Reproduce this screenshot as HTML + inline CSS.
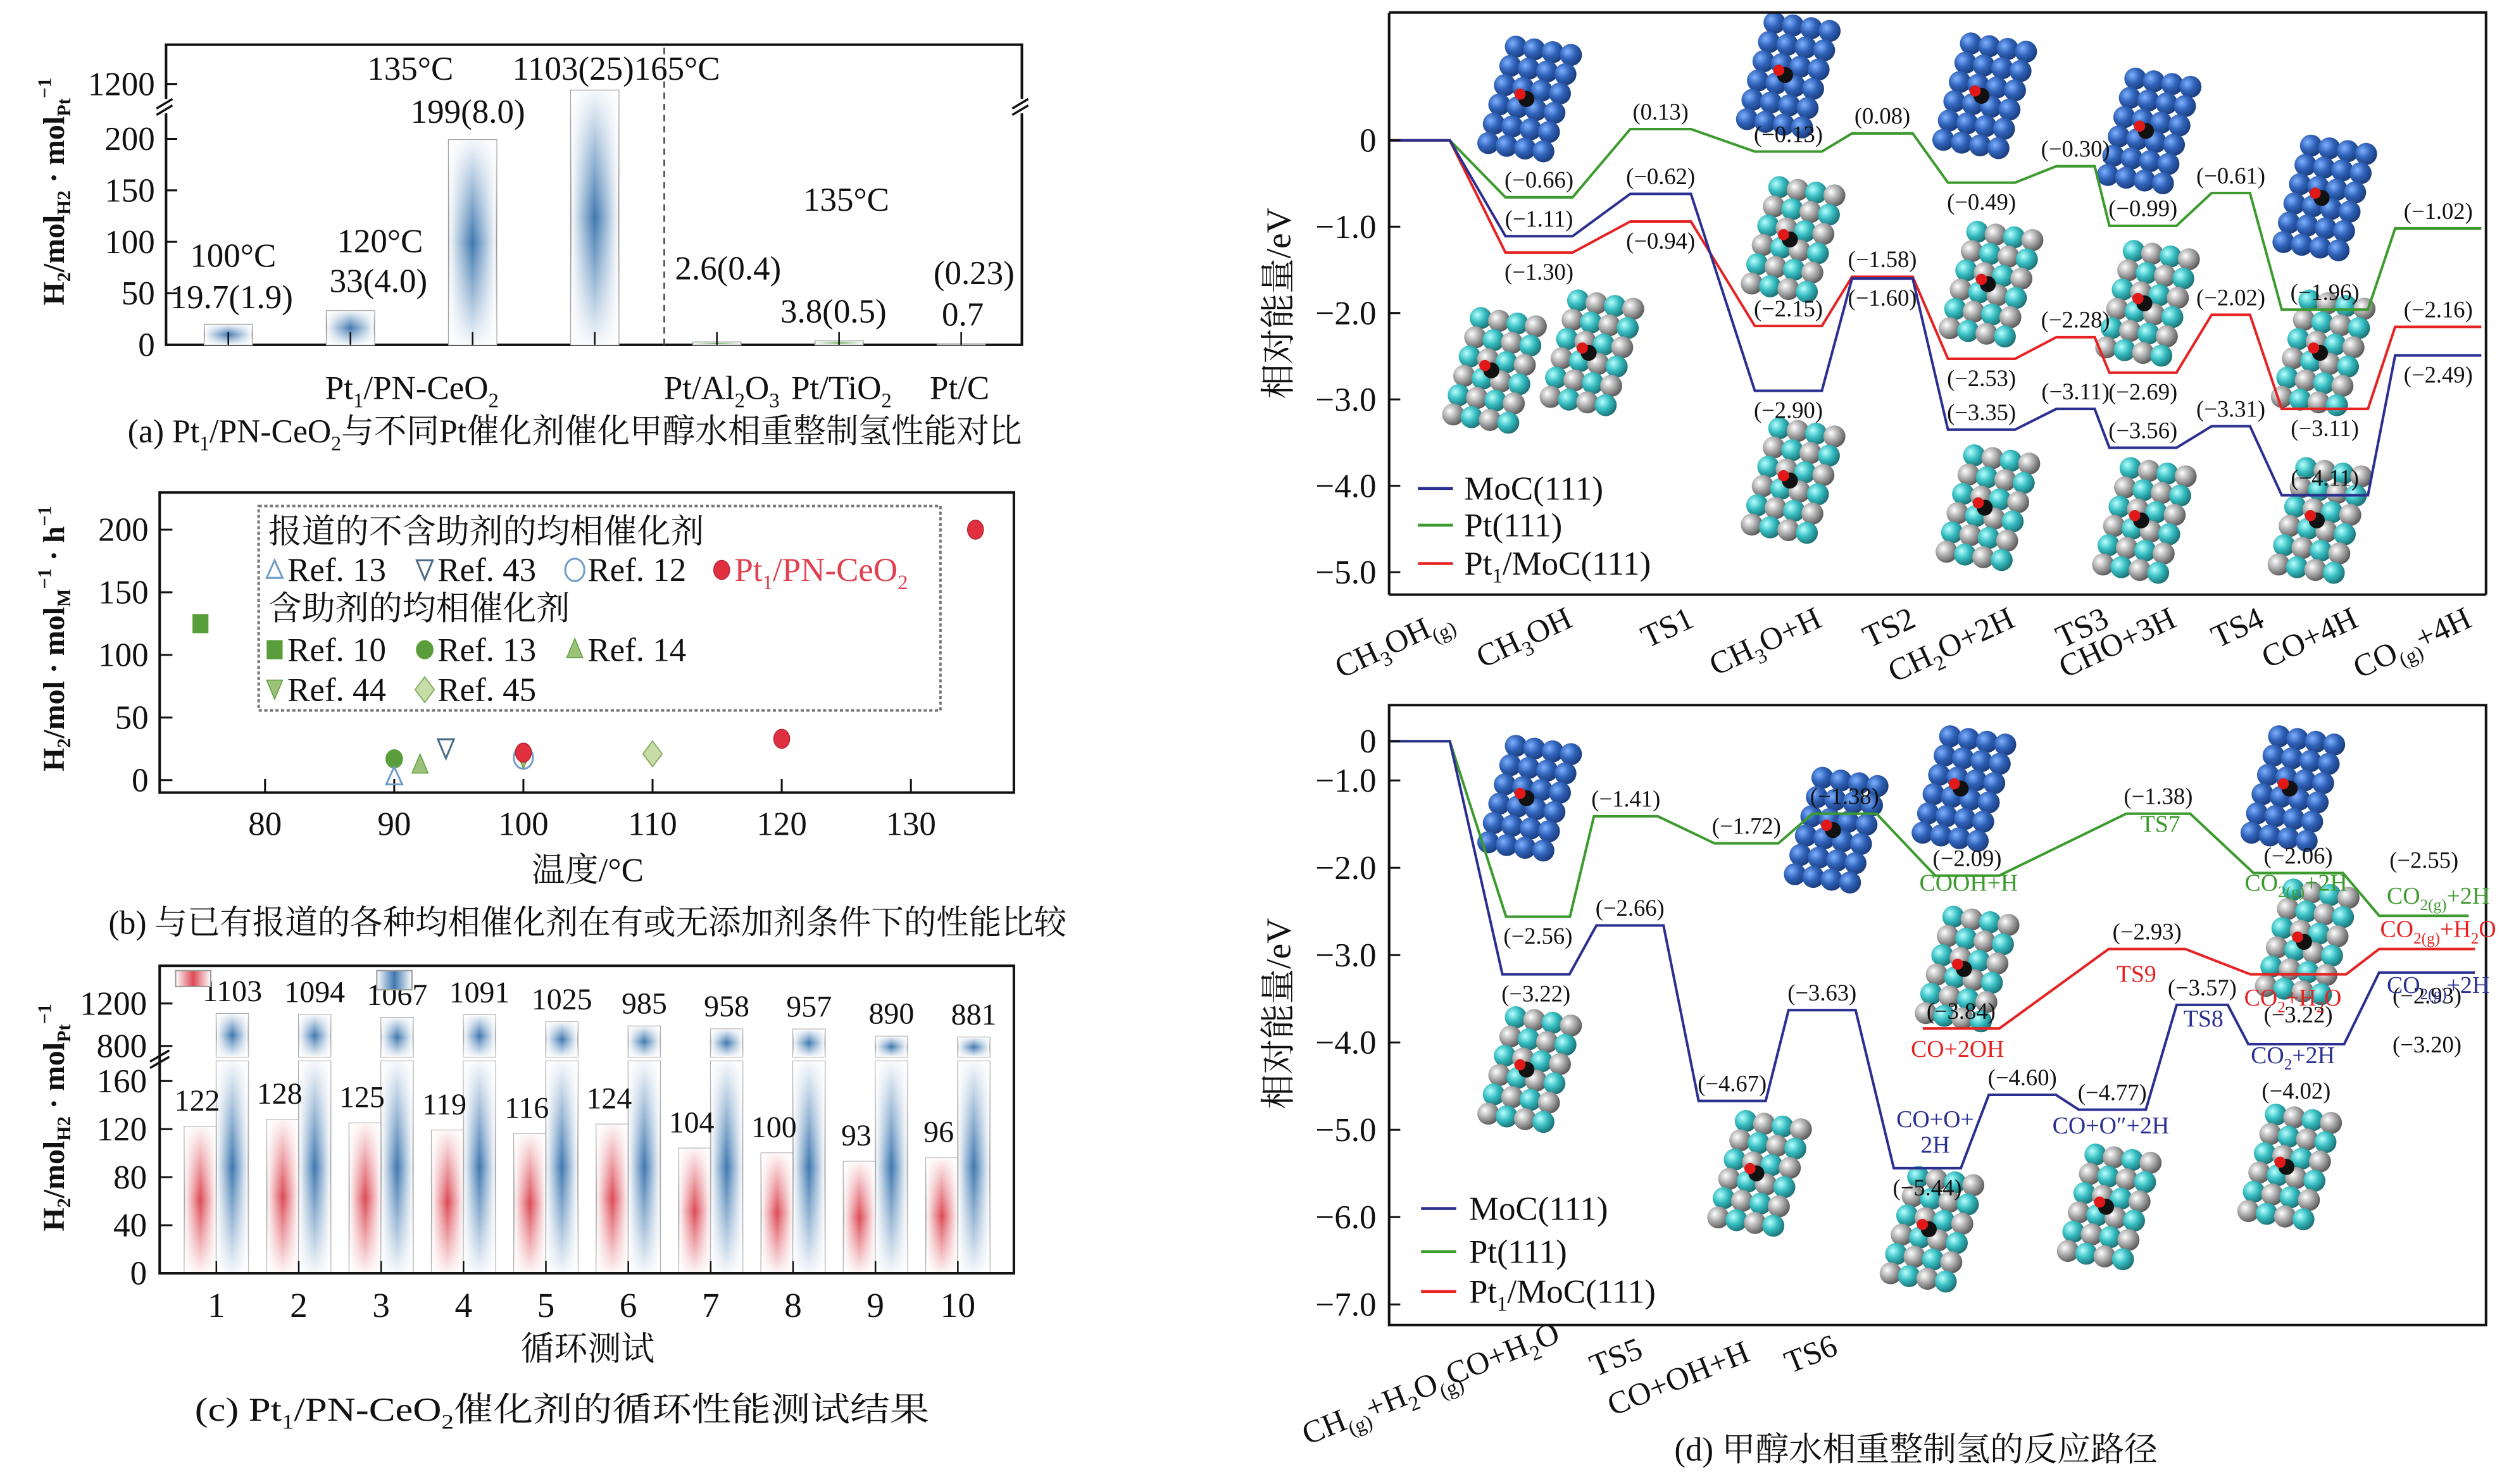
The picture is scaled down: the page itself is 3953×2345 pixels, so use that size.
<!DOCTYPE html>
<html><head><meta charset="utf-8"><style>
html,body{margin:0;padding:0;background:#fff;}
svg{display:block;}
text{font-family:"Liberation Serif","Noto Serif CJK SC",serif;fill:#111;}
.t21{font-size:21px;}
.lab{font-size:14.5px;}
</style></head><body>
<svg id="fig" xmlns="http://www.w3.org/2000/svg" width="3953" height="2345" viewBox="0 0 1567 929.6" preserveAspectRatio="none">
<defs>
<linearGradient id="hB" x1="0" x2="1" y1="0" y2="0"><stop offset="0" stop-color="#fff"/><stop offset="0.5" stop-color="#3f78b0"/><stop offset="1" stop-color="#fff"/></linearGradient>
<linearGradient id="hR" x1="0" x2="1" y1="0" y2="0"><stop offset="0" stop-color="#fff"/><stop offset="0.5" stop-color="#dc4a55"/><stop offset="1" stop-color="#fff"/></linearGradient>
<linearGradient id="hG" x1="0" x2="1" y1="0" y2="0"><stop offset="0" stop-color="#fff"/><stop offset="0.5" stop-color="#5aa84a"/><stop offset="1" stop-color="#fff"/></linearGradient>
<linearGradient id="vW" x1="0" x2="0" y1="0" y2="1"><stop offset="0" stop-color="#fff" stop-opacity="0.95"/><stop offset="0.5" stop-color="#fff" stop-opacity="0"/><stop offset="1" stop-color="#fff" stop-opacity="0.95"/></linearGradient>
<radialGradient id="sB" cx="0.35" cy="0.35" r="0.7"><stop offset="0" stop-color="#7fb0ff"/><stop offset="0.5" stop-color="#2f62b8"/><stop offset="1" stop-color="#1a3a78"/></radialGradient>
<radialGradient id="sT" cx="0.35" cy="0.35" r="0.7"><stop offset="0" stop-color="#b8ffff"/><stop offset="0.5" stop-color="#35bcc0"/><stop offset="1" stop-color="#1c6c70"/></radialGradient>
<radialGradient id="sG" cx="0.35" cy="0.35" r="0.7"><stop offset="0" stop-color="#ffffff"/><stop offset="0.5" stop-color="#a8a8a8"/><stop offset="1" stop-color="#555"/></radialGradient>
</defs>

<!-- ===== Panel A ===== -->
<g id="pa">
<rect x="104" y="28" width="536" height="188" fill="none" stroke="#111" stroke-width="1.6"/>
<line x1="416" y1="30" x2="416" y2="216" stroke="#444" stroke-dasharray="4,3" stroke-width="1"/>
<g stroke="#111" stroke-width="1.4"><rect x="98" y="62" width="12" height="9" fill="#fff" stroke="none"/><line x1="98" y1="68" x2="108" y2="62"/><line x1="98" y1="72" x2="108" y2="66"/><rect x="634" y="62" width="12" height="9" fill="#fff" stroke="none"/><line x1="634" y1="68" x2="644" y2="62"/><line x1="634" y1="72" x2="644" y2="66"/></g>
<text x="40" y="120" transform="rotate(-90 40 120)" text-anchor="middle" style="font-size:19px;font-weight:bold">H<tspan font-size="12" dy="4">2</tspan><tspan dy="-4">/mol</tspan><tspan font-size="12" dy="4">H2</tspan><tspan dy="-4"> · mol</tspan><tspan font-size="12" dy="4">Pt</tspan><tspan font-size="12" dy="-12">−1</tspan></text>
<text x="258" y="250" text-anchor="middle" class="t21">Pt<tspan font-size="13" dy="5">1</tspan><tspan dy="-5">/PN-CeO</tspan><tspan font-size="13" dy="5">2</tspan></text>
<text x="452" y="250" text-anchor="middle" class="t21">Pt/Al<tspan font-size="13" dy="5">2</tspan><tspan dy="-5">O</tspan><tspan font-size="13" dy="5">3</tspan></text>
<text x="527" y="250" text-anchor="middle" class="t21">Pt/TiO<tspan font-size="13" dy="5">2</tspan></text>
<text x="601" y="250" text-anchor="middle" class="t21">Pt/C</text>
<g class="t21" text-anchor="middle">
<text x="146" y="167">100°C</text>
<text x="145" y="193">19.7(1.9)</text>
<text x="238" y="158">120°C</text>
<text x="237" y="183">33(4.0)</text>
<text x="257" y="50">135°C</text>
<text x="293" y="77">199(8.0)</text>
<text x="359" y="50">1103(25)</text>
<text x="424" y="50">165°C</text>
<text x="456" y="175">2.6(0.4)</text>
<text x="530" y="132">135°C</text>
<text x="522" y="202">3.8(0.5)</text>
<text x="610" y="178">(0.23)</text>
<text x="603" y="204">0.7</text>
</g>
<text x="360" y="277" text-anchor="middle" class="t21" textLength="560" lengthAdjust="spacingAndGlyphs">(a) Pt<tspan font-size="13" dy="5">1</tspan><tspan dy="-5">/PN-CeO</tspan><tspan font-size="13" dy="5">2</tspan><tspan dy="-5">与不同Pt催化剂催化甲醇水相重整制氢性能对比</tspan></text>
</g>

<!-- ===== Panel B ===== -->
<g id="pb">
<rect x="100" y="308.5" width="535" height="188" fill="none" stroke="#111" stroke-width="1.6"/>
<text x="40" y="400" transform="rotate(-90 40 400)" text-anchor="middle" style="font-size:19px;font-weight:bold">H<tspan font-size="12" dy="4">2</tspan><tspan dy="-4">/mol · mol</tspan><tspan font-size="12" dy="4">M</tspan><tspan font-size="12" dy="-12">−1</tspan><tspan dy="8"> · h</tspan><tspan font-size="12" dy="-8">−1</tspan></text>
<text x="368" y="552" text-anchor="middle" class="t21">温度/°C</text>
<rect x="162" y="317" width="427" height="128" fill="#fff" stroke="#777" stroke-dasharray="2,1.5" stroke-width="1.6"/>
<g class="t21">
<text x="168" y="340">报道的不含助剂的均相催化剂</text>
<text x="168" y="388">含助剂的均相催化剂</text>
<text x="180" y="364">Ref. 13</text>
<text x="274" y="364">Ref. 43</text>
<text x="368" y="364">Ref. 12</text>
<text x="460" y="364" fill="#e04050" style="fill:#e04050">Pt<tspan font-size="13" dy="5">1</tspan><tspan dy="-5">/PN-CeO</tspan><tspan font-size="13" dy="5">2</tspan></text>
<text x="180" y="414">Ref. 10</text>
<text x="274" y="414">Ref. 13</text>
<text x="368" y="414">Ref. 14</text>
<text x="180" y="439">Ref. 44</text>
<text x="274" y="439">Ref. 45</text>
</g>
<text x="368" y="585" text-anchor="middle" class="t21" textLength="600" lengthAdjust="spacingAndGlyphs">(b) 与已有报道的各种均相催化剂在有或无添加剂条件下的性能比较</text>
</g>

<!-- ===== Panel C ===== -->
<g id="pc">
<text x="40" y="700" transform="rotate(-90 40 700)" text-anchor="middle" style="font-size:19px;font-weight:bold">H<tspan font-size="12" dy="4">2</tspan><tspan dy="-4">/mol</tspan><tspan font-size="12" dy="4">H2</tspan><tspan dy="-4"> · mol</tspan><tspan font-size="12" dy="4">Pt</tspan><tspan font-size="12" dy="-12">−1</tspan></text>
<text x="368" y="852" text-anchor="middle" class="t21">循环测试</text>
<text x="352" y="890" text-anchor="middle" class="t21" textLength="460" lengthAdjust="spacingAndGlyphs">(c) Pt<tspan font-size="13" dy="5">1</tspan><tspan dy="-5">/PN-CeO</tspan><tspan font-size="13" dy="5">2</tspan><tspan dy="-5">催化剂的循环性能测试结果</tspan></text>
</g>

<!-- ===== Panel D ===== -->
<g id="pd">
<text x="808" y="190" transform="rotate(-90 808 190)" text-anchor="middle" style="font-size:22px">相对能量/eV</text>
<text x="808" y="635" transform="rotate(-90 808 635)" text-anchor="middle" style="font-size:22px">相对能量/eV</text>
<text x="1200" y="915" text-anchor="middle" class="t21">(d) 甲醇水相重整制氢的反应路径</text>
</g>
<g id="mol"></g>
<g id="marks"></g>
</svg>
<script>
// ---------- DATA ----------
const aCategories = ["100°C","120°C","135°C","165°C","Pt/Al2O3","Pt/TiO2","Pt/C"];
const aValues = [19.7, 33, 199, 1103, 2.6, 3.8, 0.7];
const aTicksLow = [0, 50, 100, 150, 200];
const aTicksHigh = [1200];

const bTicksX = [80, 90, 100, 110, 120, 130];
const bTicksY = [0, 50, 100, 150, 200];
const bSeriesNames = ["Ref. 10","Ref. 13 filled","Ref. 13 open","Ref. 14","Ref. 43","Ref. 12","Ref. 44","Ref. 45","Pt1/PN-CeO2","Pt1/PN-CeO2","Pt1/PN-CeO2"];
const bTemps  = [75, 90, 90, 92, 94, 100, 100, 110, 100, 120, 135];
const bRates  = [125, 17, 3, 12, 25, 18, 17, 21, 22, 33, 200];
const bShapes = ["sq","circ","tri-open","tri","itri-open","circ-open","itri","dia","red","red","red"];

const cCycles = [1,2,3,4,5,6,7,8,9,10];
const cRed = [122,128,125,119,116,124,104,100,93,96];
const cBlue = [1103,1094,1067,1091,1025,985,958,957,890,881];
const cTicksLow = [0,40,80,120,160];
const cTicksHigh = [800,1200];

const tStates = ["CH3OH(g)","CH3OH","TS1","CH3O+H","TS2","CH2O+2H","TS3","CHO+3H","TS4","CO+4H","CO(g)+4H"];
const tPos = [0, 1.17, 2.36, 3.61, 4.53, 5.5, 6.42, 7.08, 7.94, 8.86, 9.97];
const tMoC = [0, -1.11, -0.62, -2.90, -1.60, -3.35, -3.11, -3.56, -3.31, -4.11, -2.49];
const tPt  = [0, -0.66, 0.13, -0.13, 0.08, -0.49, -0.30, -0.99, -0.61, -1.96, -1.02];
const tPt1 = [0, -1.30, -0.94, -2.15, -1.58, -2.53, -2.28, -2.69, -2.02, -3.11, -2.16];
const tTicks = [0, -1, -2, -3, -4, -5];

const dMoCPos = [0, 1.14, 2.06, 3.06, 3.94, 4.97, 5.9, 6.78, 7.66, 8.58, 9.86];
const dMoC    = [0, -3.22, -2.66, -4.67, -3.63, -5.44, -4.60, -4.77, -3.57, -4.02, -3.20];
const dPtPos  = [0, 1.16, 2.02, 3.2, 4.16, 5.36, 7.23, 8.6, 9.83];
const dPt     = [0, -2.56, -1.41, -1.72, -1.38, -2.09, -1.38, -2.06, -2.55];
const dPt1Pos = [5.3, 7.12, 8.6, 9.86];
const dPt1    = [-3.84, -2.93, -3.22, -2.93];
const dTicks  = [0, -1, -2, -3, -4, -5, -6, -7];

// ---------- helpers ----------
const NS = "http://www.w3.org/2000/svg";
const marks = document.getElementById("marks");
function mk(tag, attrs, parent){
  const e = document.createElementNS(NS, tag);
  for (const k in attrs) e.setAttribute(k, attrs[k]);
  (parent || marks).appendChild(e);
  return e;
}
function fmt(v){ return (v<0?"(−":"(") + Math.abs(v).toFixed(2) + ")"; }

// ---------- Panel A ----------
const xA = i => 143 + i*76.5;
const yA = v => v >= 1000 ? 52.6 + (1200 - v)*0.041 : 216 - v*0.645;
aValues.forEach((v,i)=>{
  const g = i>=4 ? "url(#hG)" : "url(#hB)";
  const top = yA(v);
  const r = mk("rect",{x:xA(i)-15,y:top,width:30,height:216-top,fill:g,stroke:"#999","stroke-width":0.8});
  
  
  const o = mk("rect",{x:xA(i)-15,y:top,width:30,height:216-top,fill:"url(#vW)"});
  
  
  const t = mk("line",{x1:xA(i),x2:xA(i),y1:216,y2:208,stroke:"#111","stroke-width":1});
  
  
});
aTicksLow.concat(aTicksHigh).forEach(v=>{
  const y = yA(v);
  const l = mk("line",{x1:104,x2:111,y1:y,y2:y,stroke:"#111","stroke-width":1.2});
  
  
  const t = mk("text",{x:97,y:y+7,"text-anchor":"end","font-size":21});
  t.textContent = v;
  
  
});

// ---------- Panel B ----------
const xB = t => 166 + (t-80)*8.09;
const yB = v => 488.7 - v*0.7845;
bTicksX.forEach(v=>{
  const l = mk("line",{x1:xB(v),x2:xB(v),y1:496.6,y2:488,stroke:"#111","stroke-width":1.2});
  
  
  const t = mk("text",{x:xB(v),y:523,"text-anchor":"middle","font-size":21});
  t.textContent = v;
  
  
});
bTicksY.forEach(v=>{
  const l = mk("line",{x1:100,x2:108,y1:yB(v),y2:yB(v),stroke:"#111","stroke-width":1.2});
  
  
  const t = mk("text",{x:93,y:yB(v)+7,"text-anchor":"end","font-size":21});
  t.textContent = v;
  
  
});
function marker(shape,x,y){
  let e;
  const G="#5a9e3c", LG="#9cc27a", BL="#6f9cc8";
  if(shape==="sq") e = mk("rect",{x:x-5,y:y-6,width:10,height:12,fill:G});
  else if(shape==="circ") e = mk("ellipse",{cx:x,cy:y,rx:5.5,ry:6,fill:G});
  else if(shape==="tri-open") e = mk("polygon",{points:`${x},${y-6} ${x-5},${y+5} ${x+5},${y+5}`,fill:"none",stroke:BL,"stroke-width":1.2});
  else if(shape==="tri") e = mk("polygon",{points:`${x},${y-7} ${x-5},${y+5} ${x+5},${y+5}`,fill:LG,stroke:G,"stroke-width":0.6});
  else if(shape==="itri-open") e = mk("polygon",{points:`${x-5},${y-6} ${x+5},${y-6} ${x},${y+6}`,fill:"none",stroke:"#4a6a88","stroke-width":1.2});
  else if(shape==="circ-open") e = mk("ellipse",{cx:x,cy:y,rx:6,ry:7,fill:"none",stroke:BL,"stroke-width":1.2});
  else if(shape==="itri") e = mk("polygon",{points:`${x-5},${y-6} ${x+5},${y-6} ${x},${y+6}`,fill:LG,stroke:G,"stroke-width":0.6});
  else if(shape==="dia") e = mk("polygon",{points:`${x},${y-8} ${x+6},${y} ${x},${y+8} ${x-6},${y}`,fill:"#c8dca8",stroke:"#8aae66","stroke-width":0.8});
  else e = mk("ellipse",{cx:x,cy:y,rx:5,ry:6,fill:"#e03040",stroke:"#b02030","stroke-width":0.5});
  return e;
}
bTemps.forEach((t,i)=>{
  const e = marker(bShapes[i], xB(t), yB(bRates[i]));
  
  
});
[["tri-open",172,357],["itri-open",266,357],["circ-open",360,357],["red",452,357],["sq",172,407],["circ",266,407],["tri",360,407],["itri",172,432],["dia",266,432]].forEach(m=>{
  const e = marker(m[0],m[1],m[2]);
  
  
});

// ---------- Panel C ----------
const xC = c => 135.5 + (c-1)*51.6;
const yC = v => v >= 700 ? 628.6 + (1200-v)*0.0665 : 797.6 - v*0.7525;
cCycles.forEach((c,i)=>{
  const x = xC(c);
  const rt = yC(cRed[i]);
  const r = mk("rect",{x:x-20,y:rt,width:20,height:797.6-rt,fill:"url(#hR)",stroke:"#aaa","stroke-width":0.8});
  
  
  const ro = mk("rect",{x:x-20,y:rt,width:20,height:797.6-rt,fill:"url(#vW)"});
  
  
  const bl = mk("rect",{x:x,y:664.7,width:20,height:797.6-664.7,fill:"url(#hB)",stroke:"#aaa","stroke-width":0.8});
  
  
  const blo = mk("rect",{x:x,y:664.7,width:20,height:797.6-664.7,fill:"url(#vW)"});
  
  
  const bt = yC(cBlue[i]);
  const bu = mk("rect",{x:x,y:bt,width:20,height:662-bt,fill:"url(#hB)",stroke:"#aaa","stroke-width":0.8});
  
  
  const buo = mk("rect",{x:x,y:bt,width:20,height:662-bt,fill:"url(#vW)"});
  
  
  const tl = mk("text",{x:x-12,y:rt-10,"text-anchor":"middle","font-size":19});
  tl.textContent = cRed[i];
  
  
  const tb = mk("text",{x:x+10,y:bt-8,"text-anchor":"middle","font-size":19});
  tb.textContent = cBlue[i];
  
  
  const tk = mk("line",{x1:x,x2:x,y1:797.6,y2:790,stroke:"#111","stroke-width":1});
  
  
  const tx = mk("text",{x:x,y:825,"text-anchor":"middle","font-size":22});
  tx.textContent = c;
  
  
});
cTicksLow.concat(cTicksHigh).forEach(v=>{
  const l = mk("line",{x1:100,x2:108,y1:yC(v),y2:yC(v),stroke:"#111","stroke-width":1.2});
  
  
  const t = mk("text",{x:92,y:yC(v)+7,"text-anchor":"end","font-size":21});
  t.textContent = v;
  
  
});
{
  const f = mk("rect",{x:100,y:605,width:535,height:192.6,fill:"none",stroke:"#111","stroke-width":1.6});
  
  
  const br = mk("path",{d:"M94 665 L106 658 M94 669 L106 662",stroke:"#111","stroke-width":1.4,fill:"none"});
  
  
  const l1 = mk("rect",{x:110,y:608,width:22,height:10,fill:"url(#hR)",stroke:"#999","stroke-width":0.8});
  
  
  const l2 = mk("rect",{x:236,y:608,width:22,height:12,fill:"url(#hB)",stroke:"#999","stroke-width":0.8});
  
  
}

// ---------- Panel D molecules ----------
const molG = document.getElementById("mol");
function cluster(cx, cy, kind){
  const g = mk("g",{},molG);
  
  
  const rows = 6, cols = 4, s = 11.5;
  for(let r=0;r<rows;r++){
    for(let c=0;c<cols;c++){
      const x = cx + (c - 1.5)*s - (r - (rows-1)/2)*s*0.3;
      const y = cy + (r - (rows-1)/2)*s*1.05 + (c-1.5)*s*0.15;
      let fill = "url(#sB)";
      if(kind!=="pt") fill = ((r+c)%2===0) ? "url(#sT)" : "url(#sG)";
      const e = mk("circle",{cx:x,cy:y,r:s*0.6,fill:fill},g);
      
      
    }
  }
  const a = mk("circle",{cx:cx-2,cy:cy,r:5,fill:"#111"},g);
  
  
  const o = mk("circle",{cx:cx-6,cy:cy-3,r:3.5,fill:"#e01818"},g);
  
  
}
[[958,62],[1120,47],[1243,60],[1346,82],[1456,124],[958,500],[1150,520],[1230,494],[1436,494]].forEach(p=>cluster(p[0],p[1],"pt"));
[[936,232],[997,221],[1123,150],[1247,178],[1345,190],[1455,221],[1123,301],[1245,318],[1343,326],[1453,326],
 [958,670],[1102,735],[1210,770],[1321,756],[1434,731],[1232,607],[1445,590]].forEach(p=>cluster(p[0],p[1],"moc"));

// ---------- Panel D top ----------
const xS = p => 889 + p*64;
const yT = v => 87.9 - v*54.1;
function pathway(pos, vals, yf, color, name, hwFn){
  let d = "";
  pos.forEach((p,i)=>{
    const hw = hwFn(i);
    const x0 = xS(p)-hw, x1 = xS(p)+hw, y = yf(vals[i]);
    d += (i===0?"M":"L") + x0 + " " + y + " L" + x1 + " " + y + " ";
  });
  const e = mk("path",{d:d,fill:"none",stroke:color,"stroke-width":1.6});
  
  
}
const hwTop = i => i===0 ? 19 : (tStates[i].startsWith("TS") ? (i===6||i===8 ? 12 : 19) : (i>=9 ? 27 : 21));
pathway(tPos, tPt, yT, "#3c9a2e", "line-pt111-top", hwTop);
pathway(tPos, tPt1, yT, "#e52323", "line-pt1-moc-top", hwTop);
pathway(tPos, tMoC, yT, "#2b3090", "line-moc111-top", hwTop);
const tDirPt  = [0,-1,-1,-1,-1,1,-1,-1,-1,-1,-1];
const tDirMoC = [0,-1,-1,1,1,-1,-1,-1,-1,-1,1];
const tDirPt1 = [0,1,1,-1,-1,1,-1,1,-1,1,-1];
function vlabels(pos, vals, yf, dirs, name){
  vals.forEach((v,i)=>{
    if(!dirs[i]) return;
    const y = yf(v) + (dirs[i]<0 ? -6 : 17);
    const t = mk("text",{x:xS(pos[i]),y:y,"text-anchor":"middle","class":"lab"});
    t.textContent = fmt(v);
    
    
  });
}
vlabels(tPos, tPt, yT, tDirPt, 'value-label-pt111');
vlabels(tPos, tMoC, yT, tDirMoC, 'value-label-moc111');
vlabels(tPos, tPt1, yT, tDirPt1, 'value-label-pt1-moc');
{
  const f = mk("path",{d:"M870 372.5 L870 8 M870 372.5 L1557 372.5 M870 7.8 L1557 7.8 L1557 372.5",fill:"none",stroke:"#111","stroke-width":1.6});
  
  
}
tTicks.forEach(v=>{
  const l = mk("line",{x1:870,x2:877,y1:yT(v),y2:yT(v),stroke:"#111","stroke-width":1.2});
  
  
  const t = mk("text",{x:862,y:yT(v)+7,"text-anchor":"end","font-size":21});
  t.textContent = v===0 ? "0" : "−" + Math.abs(v).toFixed(1);
  
  
});
const tLabelHtml = ["CH<tspan font-size='13' dy='5'>3</tspan><tspan dy='-5'>OH</tspan><tspan font-size='13' dy='5'>(g)</tspan>","CH<tspan font-size='13' dy='5'>3</tspan><tspan dy='-5'>OH</tspan>","TS1","CH<tspan font-size='13' dy='5'>3</tspan><tspan dy='-5'>O+H</tspan>","TS2","CH<tspan font-size='13' dy='5'>2</tspan><tspan dy='-5'>O+2H</tspan>","TS3","CHO+3H","TS4","CO+4H","CO<tspan font-size='13' dy='5'>(g)</tspan><tspan dy='-5'>+4H</tspan>"];
tPos.forEach((p,i)=>{
  const x = xS(p)+22, y = 392;
  const t = mk("text",{x:x,y:y,"text-anchor":"end","font-size":20,transform:`rotate(-25 ${x} ${y})`});
  t.innerHTML = tLabelHtml[i];
  
  
});
[["MoC(111)","#2b3090",306],["Pt(111)","#3c9a2e",329],["Pt<tspan font-size='13' dy='5'>1</tspan><tspan dy='-5'>/MoC(111)</tspan>","#e52323",353]].forEach(L=>{
  const l = mk("line",{x1:888,x2:910,y1:L[2],y2:L[2],stroke:L[1],"stroke-width":1.8});
  
  
  const t = mk("text",{x:917,y:L[2]+7,"font-size":21});
  t.innerHTML = L[0];
  
  
});

// ---------- Panel D bottom ----------
const yD = v => v >= -1 ? 464.3 + (-v)*24.6 : 488.9 + (-1 - v)*54.7;
pathway(dPtPos, dPt, yD, "#3c9a2e", "line-pt111-bottom", i=> i===0?19:(i>=7?28:20));
pathway(dMoCPos, dMoC, yD, "#2b3090", "line-moc111-bottom", i=> i===0?19:(i>=9?30:(i===8?16:21)));
pathway(dPt1Pos, dPt1, yD, "#e52323", "line-pt1-moc-bottom", i=> i>=2?30:24);
const dDirMoC = [0,1,-1,-1,-1,1,-1,-1,-1,2,3];
const dDirPt  = [0,1,-1,-1,-1,-1,-1,-1,-2];
const dDirPt1 = [-1,-1,4,2];
function vlabelsB(pos, vals, dirs, name){
  vals.forEach((v,i)=>{
    if(!dirs[i]) return;
    const d = dirs[i];
    const off = d===-1 ? -6 : d===1 ? 17 : d===2 ? 34 : d===3 ? 50 : d===4 ? 30 : -30;
    const t = mk("text",{x:xS(pos[i]),y:yD(v)+off,"text-anchor":"middle","class":"lab"});
    t.textContent = fmt(v);
    
    
  });
}
vlabelsB(dMoCPos, dMoC, dDirMoC, 'value-label-moc111-b');
vlabelsB(dPtPos, dPt, dDirPt, 'value-label-pt111-b');
vlabelsB(dPt1Pos, dPt1, dDirPt1, 'value-label-pt1-moc-b');
{
  const f = mk("path",{d:"M870 830 L870 441.7 L1557 441.7 L1557 830 Z",fill:"none",stroke:"#111","stroke-width":1.6});
  
  
}
dTicks.forEach(v=>{
  const l = mk("line",{x1:870,x2:877,y1:yD(v),y2:yD(v),stroke:"#111","stroke-width":1.2});
  
  
  const t = mk("text",{x:862,y:yD(v)+7,"text-anchor":"end","font-size":21});
  t.textContent = v===0 ? "0" : "−" + Math.abs(v).toFixed(1);
  
  
});
const stateLabels = [
 ["COOH+H","#3c9a2e",1233,558],["TS7","#3c9a2e",1353,521],["CO<tspan font-size='10' dy='4'>2(g)</tspan><tspan dy='-4'>+2H</tspan>","#3c9a2e",1438,558],
 ["CO<tspan font-size='10' dy='4'>2(g)</tspan><tspan dy='-4'>+2H</tspan>","#3c9a2e",1527,566],["CO<tspan font-size='10' dy='4'>2(g)</tspan><tspan dy='-4'>+H</tspan><tspan font-size='10' dy='4'>2</tspan><tspan dy='-4'>O</tspan>","#e52323",1527,587],
 ["CO+2OH","#e52323",1226,662],["TS9","#e52323",1338,615],["CO<tspan font-size='10' dy='4'>2</tspan><tspan dy='-4'>+H</tspan><tspan font-size='10' dy='4'>2</tspan><tspan dy='-4'>O</tspan>","#e52323",1436,630],
 ["TS8","#2b3090",1380,643],["CO<tspan font-size='10' dy='4'>2</tspan><tspan dy='-4'>+2H</tspan>","#2b3090",1436,666],["CO<tspan font-size='10' dy='4'>2(g)</tspan><tspan dy='-4'>+2H</tspan>","#2b3090",1527,622],
 ["CO+O+","#2b3090",1212,706],["2H","#2b3090",1212,722],["CO+O″+2H","#2b3090",1322,710]];
stateLabels.forEach(s=>{
  const t = mk("text",{x:s[2],y:s[3],"text-anchor":"middle","font-size":15,fill:s[1],style:"fill:"+s[1]});
  t.innerHTML = s[0];
  
  
});
[["CH<tspan font-size='13' dy='5'>(g)</tspan><tspan dy='-5'>+H</tspan><tspan font-size='13' dy='5'>2</tspan><tspan dy='-5'>O</tspan><tspan font-size='13' dy='5'>(g)</tspan>",916,866],
 ["CO+H<tspan font-size='13' dy='5'>2</tspan><tspan dy='-5'>O</tspan>",978,840],["TS5",1030,850],["CO+OH+H",1097,852],["TS6",1152,848]].forEach(L=>{
  const t = mk("text",{x:L[1],y:L[2],"text-anchor":"end","font-size":20,transform:`rotate(-22 ${L[1]} ${L[2]})`});
  t.innerHTML = L[0];
  
  
});
[["MoC(111)","#2b3090",757],["Pt(111)","#3c9a2e",784],["Pt<tspan font-size='13' dy='5'>1</tspan><tspan dy='-5'>/MoC(111)</tspan>","#e52323",809]].forEach(L=>{
  const l = mk("line",{x1:890,x2:912,y1:L[2],y2:L[2],stroke:L[1],"stroke-width":1.8});
  
  
  const t = mk("text",{x:920,y:L[2]+7,"font-size":21});
  t.innerHTML = L[0];
  
  
});
</script>
</body></html>
